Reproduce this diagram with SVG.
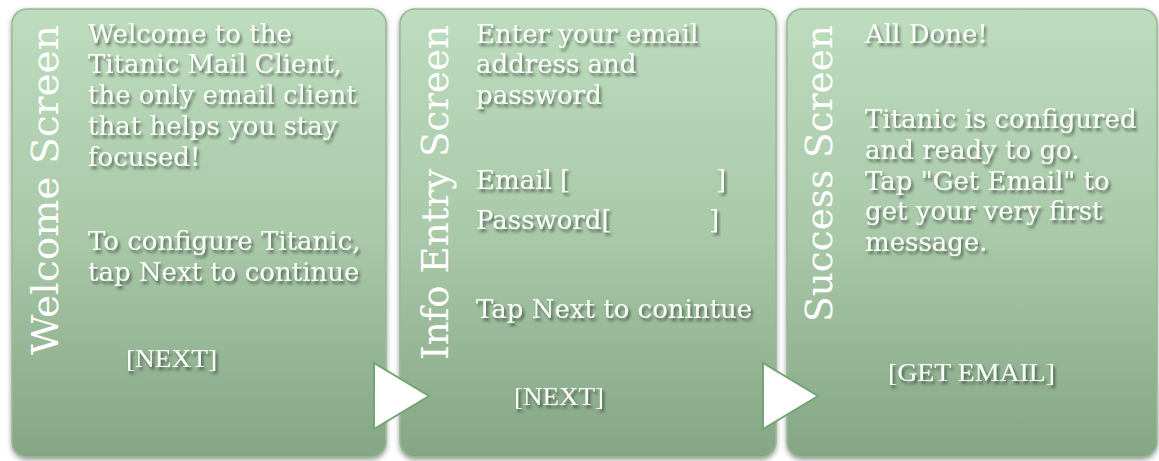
<svg xmlns="http://www.w3.org/2000/svg" width="1159" height="461" viewBox="0 0 1159 461">
  <defs>
    <linearGradient id="panelGrad" x1="0" y1="0" x2="0" y2="1">
      <stop offset="0" stop-color="#bedcbe"/>
      <stop offset="0.5" stop-color="#a9c9a9"/>
      <stop offset="1" stop-color="#85a685"/>
    </linearGradient>
    <filter id="panelShadow" x="-5%" y="-5%" width="110%" height="110%">
      <feDropShadow dx="0" dy="2" stdDeviation="2.5" flood-color="#444" flood-opacity="0.55"/>
    </filter>
    <filter id="textShadow" x="-10%" y="-30%" width="120%" height="160%">
      <feDropShadow dx="2" dy="3" stdDeviation="1.8" flood-color="#000" flood-opacity="0.5"/>
    </filter>
    <style>
      .panel { fill: url(#panelGrad); stroke: #98b998; stroke-width: 1.5; filter: url(#panelShadow); }
      .title { font-family: "DejaVu Serif", "Liberation Serif", serif; font-size: 37px; fill: #ffffff; }
      .body { font-family: "DejaVu Serif", "Liberation Serif", serif; font-size: 26px; fill: #fbfffb; filter: url(#textShadow); }
      .btn { font-family: "Liberation Serif", "Times New Roman", serif; font-size: 26px; fill: #fbfffb; filter: url(#textShadow); }
      .arrow { fill: #ffffff; stroke: #72a572; stroke-width: 2; stroke-linejoin: miter; }
    </style>
  </defs>

  <g id="welcome-screen">
    <rect class="panel" x="12" y="9" width="374" height="448" rx="15" ry="15"/>
    <text class="title" transform="translate(58,355) rotate(-90)" textLength="330" lengthAdjust="spacingAndGlyphs">Welcome Screen</text>
    <text class="body" x="88" y="42.5">Welcome to the</text>
    <text class="body" x="88" y="73.3">Titanic Mail Client,</text>
    <text class="body" x="88" y="104.1">the only email client</text>
    <text class="body" x="88" y="134.9">that helps you stay</text>
    <text class="body" x="88" y="165.7">focused!</text>
    <text class="body" x="88" y="250">To configure Titanic,</text>
    <text class="body" x="88" y="281">tap Next to continue</text>
    <text class="btn" x="126" y="367" textLength="91" lengthAdjust="spacingAndGlyphs">[NEXT]</text>
  </g>

  <g id="info-entry-screen">
    <rect class="panel" x="400" y="9" width="376" height="448" rx="15" ry="15"/>
    <text class="title" transform="translate(448,360) rotate(-90)" textLength="335" lengthAdjust="spacingAndGlyphs">Info Entry Screen</text>
    <text class="body" x="476" y="42.5">Enter your email</text>
    <text class="body" x="476" y="73.3">address and</text>
    <text class="body" x="476" y="104.1">password</text>
    <text class="body" x="476" y="189">Email [</text>
    <text class="body" x="716" y="189">]</text>
    <text class="body" x="476" y="229">Password[</text>
    <text class="body" x="709" y="229">]</text>
    <text class="body" x="476" y="318">Tap Next to conintue</text>
    <text class="btn" x="514" y="405" textLength="90" lengthAdjust="spacingAndGlyphs">[NEXT]</text>
  </g>

  <g id="success-screen">
    <rect class="panel" x="787" y="9" width="370" height="448" rx="15" ry="15"/>
    <text class="title" transform="translate(832,322) rotate(-90)" textLength="297" lengthAdjust="spacingAndGlyphs">Success Screen</text>
    <text class="body" x="865" y="42.5">All Done!</text>
    <text class="body" x="865" y="128">Titanic is configured</text>
    <text class="body" x="865" y="158.8">and ready to go.</text>
    <text class="body" x="865" y="189.6">Tap "Get Email" to</text>
    <text class="body" x="865" y="220.4">get your very first</text>
    <text class="body" x="865" y="251.2">message.</text>
    <text class="btn" x="888" y="381" textLength="167" lengthAdjust="spacingAndGlyphs">[GET EMAIL]</text>
  </g>

  <g id="connectors">
    <polygon class="arrow" points="374,363 374,429 429,396"/>
    <polygon class="arrow" points="763,363 763,429 818,396"/>
  </g>
</svg>
